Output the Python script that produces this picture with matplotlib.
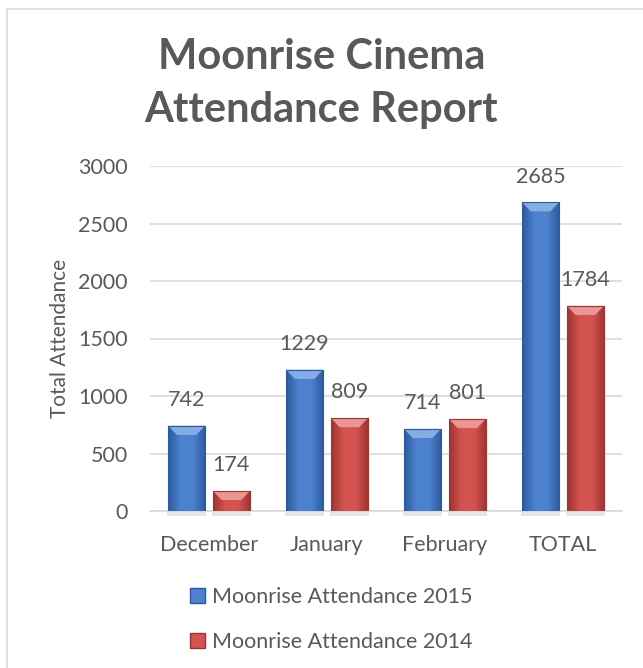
import numpy as np
import matplotlib
matplotlib.use("Agg")
import matplotlib.pyplot as plt
from matplotlib.patches import Rectangle, Polygon
from matplotlib.colors import LinearSegmentedColormap

months = ["December", "January", "February", "TOTAL"]
att_2015 = [742, 1229, 714, 2685]
att_2014 = [174, 809, 801, 1784]
series_names = ["Moonrise Attendance 2015", "Moonrise Attendance 2014"]

plt.rcParams['font.family'] = ['Lato', 'DejaVu Sans']
txt = '#595959'

fig = plt.figure(figsize=(6.43, 6.68), dpi=100)
ax = fig.add_axes([150/643, 1 - 511/668, 472/643, 345/668])

# chart border
fig.patches.append(Rectangle((7/643, -0.1), 1.2, 1 - 9/668 + 0.1,
                             transform=fig.transFigure, fill=False,
                             edgecolor='#D9D9D9', linewidth=1.2))

x = np.arange(len(months))
w = 0.315
off = 0.19

# colors: edge, center, bevel
blue = ('#2C5A9E', '#4C82CE', '#86ADE3')
red = ('#9E3431', '#D3534F', '#E99592')


def fancy_bars(xs, vals, cols):
    bars = ax.bar(xs, vals, w, color=cols[1], edgecolor='none', zorder=3)
    cmap = LinearSegmentedColormap.from_list('g', [cols[0], cols[1], cols[1], cols[0]])
    grad = np.linspace(0, 1, 64).reshape(1, -1)
    for b in bars:
        bx, bw, bh = b.get_x(), b.get_width(), b.get_height()
        # faint shadow under the bar
        ax.add_patch(Rectangle((bx - 0.01, -40), bw + 0.02, 40, facecolor='#E6E6E6',
                               edgecolor='none', zorder=2, clip_on=False))
        im = ax.imshow(grad, cmap=cmap, extent=(bx, bx + bw, 0, bh),
                       aspect='auto', zorder=3, interpolation='bilinear')
        im.set_clip_path(b)
        dx, dy = 0.075, 80
        dy = min(dy, bh * 0.45)
        ax.add_patch(Polygon([(bx, bh), (bx + bw, bh), (bx + bw - dx, bh - dy),
                              (bx + dx, bh - dy)], closed=True,
                             facecolor=cols[2], edgecolor='none', zorder=4))
        ax.add_patch(Rectangle((bx, 0), bw, bh, fill=False,
                               edgecolor=cols[0], linewidth=0.8, zorder=5))
    return bars


b1 = fancy_bars(x - off, att_2015, blue)
b2 = fancy_bars(x + off, att_2014, red)

for bars, vals in ((b1, att_2015), (b2, att_2014)):
    for b, v in zip(bars, vals):
        ax.annotate(str(v), (b.get_x() + b.get_width() / 2, v),
                    xytext=(0, 18.5), textcoords='offset points',
                    ha='center', va='center', fontsize=15.5, color=txt, zorder=6)

ax.set_xlim(-0.5, len(months) - 0.5)
ax.set_ylim(0, 3000)
ax.set_yticks(np.arange(0, 3001, 500))
ax.set_xticks(x)
ax.set_xticklabels(months)
ax.yaxis.grid(True, color='#D9D9D9', linewidth=1.2, zorder=0)
ax.set_axisbelow(True)
for s in ['top', 'right', 'left']:
    ax.spines[s].set_visible(False)
ax.spines['bottom'].set_color('#D9D9D9')
ax.spines['bottom'].set_linewidth(1.2)
ax.tick_params(axis='both', length=0, labelsize=15.5, labelcolor=txt)
ax.tick_params(axis='y', pad=16)
ax.tick_params(axis='x', pad=17)
ax.set_ylabel("Total Attendance", fontsize=15, color=txt, labelpad=6)

fig.text(0.5, 1 - 57/668, "Moonrise Cinema", ha='center', va='center',
         fontsize=30, fontweight='bold', color=txt)
fig.text(0.5, 1 - 110/668, "Attendance Report", ha='center', va='center',
         fontsize=30, fontweight='bold', color=txt)

h1 = Rectangle((0, 0), 1, 1, facecolor=blue[1], edgecolor=blue[0])
h2 = Rectangle((0, 0), 1, 1, facecolor=red[1], edgecolor=red[0])
fig.legend([h1, h2], series_names, loc='upper left',
           bbox_to_anchor=(190/643, 1 - 587/668), frameon=False,
           fontsize=15.5, labelcolor=txt, handlelength=0.7, handleheight=0.7,
           handletextpad=0.3, labelspacing=1.15, borderpad=0, borderaxespad=0)

fig.savefig("out.png", dpi=100)
